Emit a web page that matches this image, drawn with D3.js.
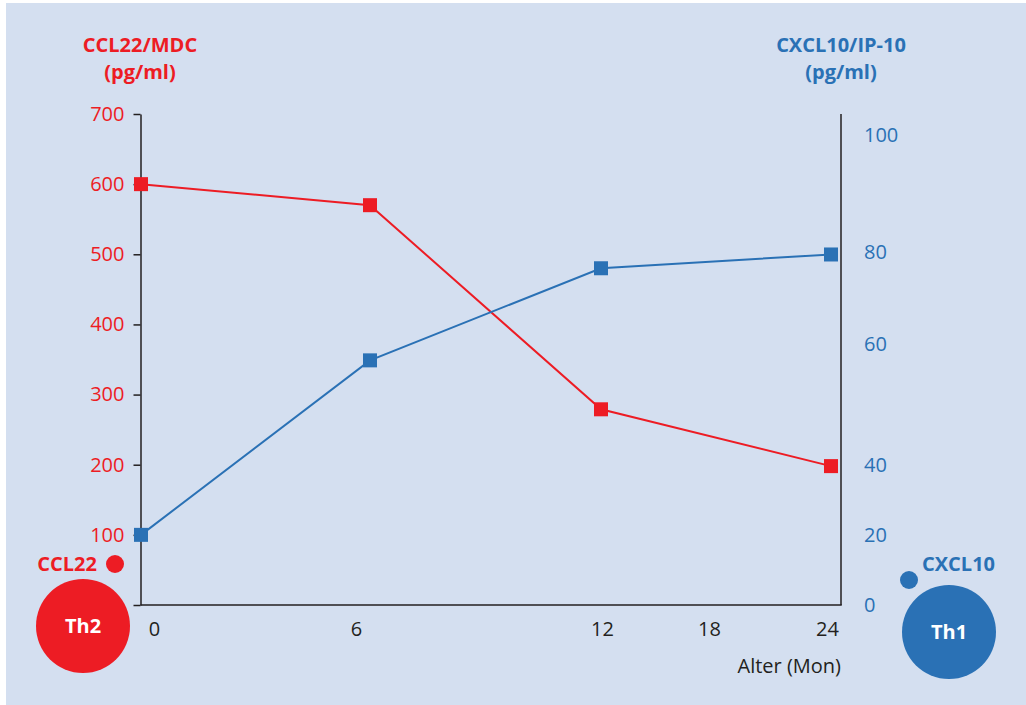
<!DOCTYPE html>
<html>
<head>
<meta charset="utf-8">
<script src="https://cdn.jsdelivr.net/npm/d3@7"></script>
<style>
  html, body { margin: 0; padding: 0; background: #ffffff; }
  svg { display: block; font-family: "Open Sans", "Noto Sans", sans-serif; }
</style>
</head>
<body>
<svg id="chart" width="1026" height="705"></svg>
<script>
// ---- data ----
const months = [0, 6, 12, 24];
const ccl22 = [600, 570, 279, 198];          // pg/ml, left axis
const cxcl10 = [20, 57.3, 76.5, 79.5];        // pg/ml, right axis
const xTickLabels = [0, 6, 12, 18, 24];
const leftTicks = [0, 100, 200, 300, 400, 500, 600, 700];
const rightTicks = [0, 20, 40, 60, 80, 100];
// right axis (as drawn, non-uniform) expressed in left-axis units
const rightTicksInLeftUnits = [0, 100, 200, 372, 503, 670];
const leftTitle = ["CCL22/MDC", "(pg/ml)"];
const rightTitle = ["CXCL10/IP-10", "(pg/ml)"];
const xTitle = "Alter (Mon)";

// ---- style ----
const RED = "#ed1c24", BLUE = "#2a71b5", INK = "#231f20", BG = "#d4dff0";
const xLabelNudge = [13, -14, 1, -7, -4];

const svg = d3.select("#chart");
svg.append("rect").attr("x", 6).attr("y", 3).attr("width", 1020).attr("height", 702).attr("fill", BG);

const X0 = 140.5, X1 = 841, Y0 = 605, Y1 = 114;

const x = d3.scaleLinear().domain(months).range([141, 370, 601, 831]);
const yL = d3.scaleLinear().domain([0, 700]).range([Y0, Y1]);
const yR = d3.scaleLinear().domain(rightTicks).range(rightTicksInLeftUnits.map(yL));

// left axis
const gL = svg.append("g").attr("transform", `translate(${X0},0)`)
  .call(d3.axisLeft(yL).tickValues(leftTicks).tickSize(7).tickSizeOuter(0).tickPadding(9)
        .tickFormat(d => d === 0 ? "" : d));
gL.select(".domain").attr("stroke", INK).attr("stroke-width", 1.5);
gL.selectAll(".tick line").attr("stroke", INK).attr("stroke-width", 1.5);
gL.selectAll(".tick text").attr("fill", RED).attr("font-size", 20).attr("font-family", "Open Sans");

// right axis
const gR = svg.append("g").attr("transform", `translate(${X1},0)`)
  .call(d3.axisRight(yR).tickValues(rightTicks).tickSize(0).tickPadding(23));
gR.select(".domain").remove();
gR.selectAll(".tick text").attr("fill", BLUE).attr("font-size", 20).attr("font-family", "Open Sans");
svg.append("line").attr("x1", X1).attr("x2", X1).attr("y1", Y1).attr("y2", Y0)
  .attr("stroke", INK).attr("stroke-width", 1.5);

// bottom axis
svg.append("line").attr("x1", X0).attr("x2", X1 + 0.75).attr("y1", Y0).attr("y2", Y0)
  .attr("stroke", INK).attr("stroke-width", 1.5);
const gB = svg.append("g").attr("transform", `translate(0,${Y0})`)
  .call(d3.axisBottom(x).tickValues(xTickLabels).tickSize(0).tickPadding(17).tickFormat(d3.format("d")));
gB.select(".domain").remove();
gB.selectAll(".tick text").attr("fill", INK).attr("font-size", 20).attr("font-family", "Open Sans")
  .attr("dx", (d, i) => xLabelNudge[i]);

svg.append("text").attr("x", X1).attr("y", 673).attr("text-anchor", "end")
  .attr("fill", INK).attr("font-size", 20).text(xTitle);

// titles
function title(lines, cx, color) {
  lines.forEach((t, i) => {
    svg.append("text").attr("x", cx).attr("y", 52 + i * 27).attr("text-anchor", "middle")
      .attr("fill", color).attr("font-size", 20).attr("font-weight", "bold").text(t);
  });
}
title(leftTitle, 140, RED);
title(rightTitle, 841, BLUE);

// lines + markers
function series(vals, yScale, color) {
  const pts = months.map((m, i) => [x(m), yScale(vals[i])]);
  svg.append("path").attr("d", d3.line()(pts)).attr("fill", "none")
    .attr("stroke", color).attr("stroke-width", 2);
  svg.selectAll(null).data(pts).enter().append("rect")
    .attr("x", d => d[0] - 7).attr("y", d => d[1] - 7).attr("width", 14).attr("height", 14)
    .attr("fill", color);
}
series(ccl22, yL, RED);
series(cxcl10, yR, BLUE);

// Th2 / Th1 badges
svg.append("circle").attr("cx", 83).attr("cy", 626).attr("r", 47).attr("fill", RED);
svg.append("text").attr("x", 83).attr("y", 633).attr("text-anchor", "middle").attr("fill", "#fff")
  .attr("font-size", 20).attr("font-weight", "bold").text("Th2");
svg.append("circle").attr("cx", 115).attr("cy", 564).attr("r", 9).attr("fill", RED);
svg.append("text").attr("x", 97).attr("y", 571).attr("text-anchor", "end").attr("fill", RED)
  .attr("font-size", 20).attr("font-weight", "bold").text("CCL22");

svg.append("circle").attr("cx", 949).attr("cy", 632).attr("r", 47).attr("fill", BLUE);
svg.append("text").attr("x", 949).attr("y", 639).attr("text-anchor", "middle").attr("fill", "#fff")
  .attr("font-size", 20).attr("font-weight", "bold").text("Th1");
svg.append("circle").attr("cx", 909).attr("cy", 580).attr("r", 9).attr("fill", BLUE);
svg.append("text").attr("x", 922).attr("y", 571).attr("text-anchor", "start").attr("fill", BLUE)
  .attr("font-size", 20).attr("font-weight", "bold").text("CXCL10");
</script>
</body>
</html>
